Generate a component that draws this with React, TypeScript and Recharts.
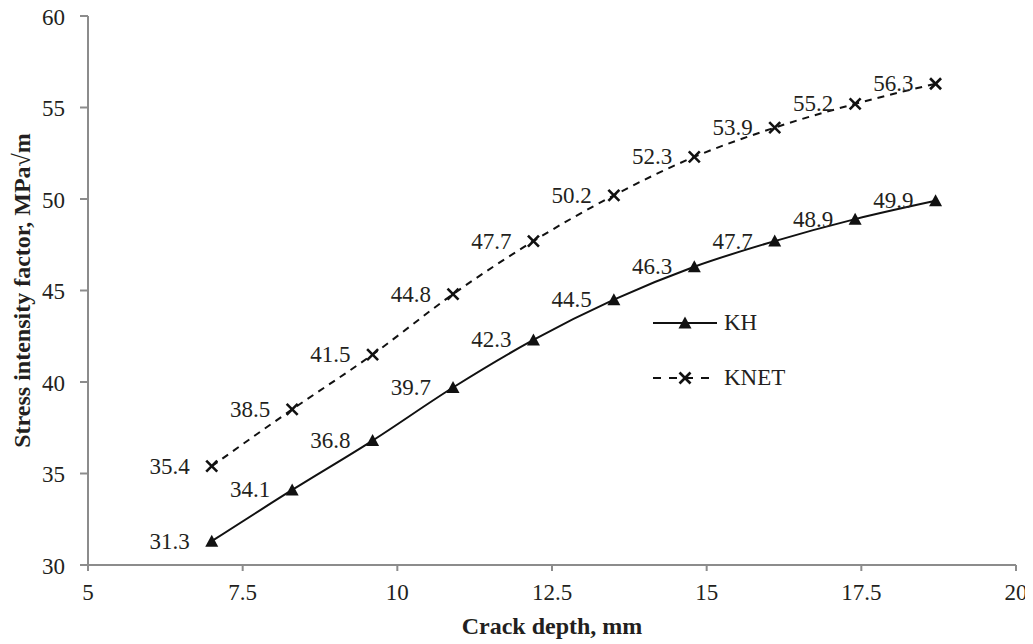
import React from 'react';
import { LineChart, Line, XAxis, YAxis, LabelList } from 'recharts';

const crackDepth = [7, 8.3, 9.6, 10.9, 12.2, 13.5, 14.8, 16.1, 17.4, 18.7];
const khValues = [31.3, 34.1, 36.8, 39.7, 42.3, 44.5, 46.3, 47.7, 48.9, 49.9];
const knetValues = [35.4, 38.5, 41.5, 44.8, 47.7, 50.2, 52.3, 53.9, 55.2, 56.3];
const xTicks = [5, 7.5, 10, 12.5, 15, 17.5, 20];
const yTicks = [30, 35, 40, 45, 50, 55, 60];

const data = crackDepth.map((x, i) => ({ x, KH: khValues[i], KNET: knetValues[i] }));

const FONT = '"Liberation Serif", "Times New Roman", serif';
const FS = 23;
const TITLE_FS = 24;
const TEXT = '#231f20';
const AXIS = '#8c8c8c';

const Triangle = (props: any) => {
  const { cx, cy } = props;
  if (cx == null || cy == null) return null;
  const s = 6.5;
  return <path d={`M${cx},${cy - s} L${cx + s},${cy + s * 0.85} L${cx - s},${cy + s * 0.85} Z`} fill="#111" />;
};

const Cross = (props: any) => {
  const { cx, cy } = props;
  if (cx == null || cy == null) return null;
  const s = 5.5;
  return (
    <g stroke="#111" strokeWidth={2.6}>
      <line x1={cx - s} y1={cy - s} x2={cx + s} y2={cy + s} />
      <line x1={cx - s} y1={cy + s} x2={cx + s} y2={cy - s} />
    </g>
  );
};

const XTick = (props: any) => {
  const { x, y, payload } = props;
  return (
    <text x={x} y={y + 29} textAnchor="middle" fontFamily={FONT} fontSize={FS} fill={TEXT}>
      {payload.value}
    </text>
  );
};

const YTick = (props: any) => {
  const { x, y, payload } = props;
  return (
    <text x={x} y={y + 1} textAnchor="end" dominantBaseline="central" fontFamily={FONT} fontSize={FS} fill={TEXT}>
      {payload.value}
    </text>
  );
};

const PointLabel = (props: any) => {
  const { x, y, value } = props;
  if (x == null || y == null) return null;
  return (
    <text x={x - 22} y={y} textAnchor="end" dominantBaseline="central" fontFamily={FONT} fontSize={FS} fill={TEXT}>
      {value}
    </text>
  );
};

const LegendBox = () => (
  <div style={{ position: 'absolute', left: 653, top: 308, fontFamily: FONT, fontSize: FS, color: TEXT, lineHeight: '30px' }}>
    <div style={{ display: 'flex', alignItems: 'center', height: 30 }}>
      <svg width={66} height={20} style={{ display: 'block' }}>
        <line x1={0} y1={10} x2={64} y2={10} stroke="#111" strokeWidth={2} />
        <path d="M32,3.5 L38.5,15.5 L25.5,15.5 Z" fill="#111" />
      </svg>
      <span style={{ marginLeft: 5 }}>KH</span>
    </div>
    <div style={{ height: 25 }} />
    <div style={{ display: 'flex', alignItems: 'center', height: 30 }}>
      <svg width={66} height={20} style={{ display: 'block' }}>
        <line x1={0} y1={10} x2={64} y2={10} stroke="#111" strokeWidth={2} strokeDasharray="8 8" />
        <g stroke="#111" strokeWidth={2.6}>
          <line x1={26.5} y1={4.5} x2={37.5} y2={15.5} />
          <line x1={26.5} y1={15.5} x2={37.5} y2={4.5} />
        </g>
      </svg>
      <span style={{ marginLeft: 5 }}>KNET</span>
    </div>
  </div>
);

const YTitle = (props: any) => {
  const vb = props.viewBox || {};
  const x = 30;
  const y = vb.y + vb.height / 2;
  return (
    <text x={x} y={y} transform={`rotate(-90, ${x}, ${y})`} textAnchor="middle"
      fontFamily={FONT} fontWeight="bold" fontSize={TITLE_FS} fill={TEXT}>
      Stress intensity factor, MPa√m
    </text>
  );
};

const XTitle = (props: any) => {
  const vb = props.viewBox || {};
  const x = vb.x + vb.width / 2;
  return (
    <text x={x} y={634} textAnchor="middle" fontFamily={FONT} fontWeight="bold" fontSize={TITLE_FS} fill={TEXT}>
      Crack depth, mm
    </text>
  );
};

export default function App() {
  return (
    <div style={{ position: 'relative', width: 1033, height: 644, margin: '-8px 0 0 -8px', fontFamily: FONT }}>
      <LineChart width={1033} height={644} data={data} margin={{ top: 16, right: 17, bottom: 0, left: 0 }}>
        <XAxis
          dataKey="x"
          type="number"
          domain={[5, 20]}
          ticks={xTicks}
          allowDataOverflow
          height={79}
          stroke={AXIS}
          strokeWidth={2}
          tickSize={6}
          tickMargin={0}
          tick={<XTick />}
          tickLine={{ stroke: AXIS, strokeWidth: 2 }}
          label={<XTitle />}
        />
        <YAxis
          type="number"
          domain={[30, 60]}
          ticks={yTicks}
          width={88}
          stroke={AXIS}
          strokeWidth={2}
          tickSize={8}
          tickMargin={15}
          tick={<YTick />}
          tickLine={{ stroke: AXIS, strokeWidth: 2 }}
          label={<YTitle />}
        />
        <Line
          dataKey="KH"
          type="monotone"
          stroke="#111"
          strokeWidth={2}
          dot={<Triangle />}
          activeDot={false}
          isAnimationActive={false}
        >
          <LabelList dataKey="KH" content={<PointLabel />} />
        </Line>
        <Line
          dataKey="KNET"
          type="monotone"
          stroke="#111"
          strokeWidth={2}
          strokeDasharray="7 6"
          dot={<Cross />}
          activeDot={false}
          isAnimationActive={false}
        >
          <LabelList dataKey="KNET" content={<PointLabel />} />
        </Line>
      </LineChart>
      <LegendBox />
    </div>
  );
}
